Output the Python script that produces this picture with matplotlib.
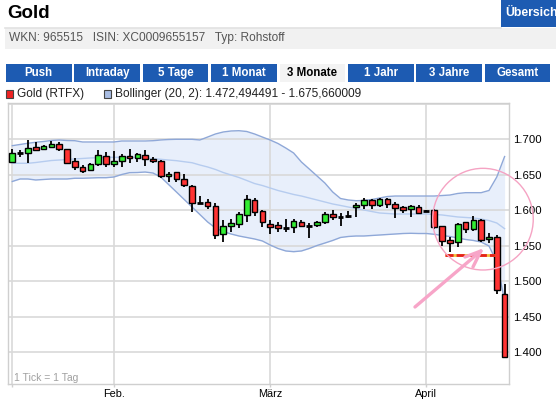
import matplotlib
matplotlib.use("Agg")
import matplotlib.pyplot as plt
from matplotlib.patches import Rectangle, Ellipse
from matplotlib.lines import Line2D
import numpy as np

plt.rcParams['lines.scale_dashes'] = False

# ---------------- data ----------------
opens = [1.6685, 1.6800, 1.6811, 1.6887, 1.6859, 1.6896, 1.6934, 1.6863, 1.6690, 1.6606,
         1.6563, 1.6652, 1.6765, 1.6648, 1.6690, 1.6760, 1.6732, 1.6775, 1.6718, 1.6690,
         1.6487, 1.6535, 1.6437, 1.6338, 1.6107, 1.6113, 1.6056, 1.5662, 1.5775, 1.5803,
         1.5930, 1.6145, 1.5994, 1.5803, 1.5789, 1.5751, 1.5760, 1.5839, 1.5783, 1.5789,
         1.5831, 1.5944, 1.5906, 1.5924, 1.6042, 1.6075, 1.6145, 1.6075, 1.6164, 1.6093,
         1.6042, 1.6014, 1.6051, 1.5994, 1.6004, 1.5775, 1.5580, 1.5550, 1.5831, 1.5732,
         1.5863, 1.5591, 1.5620, 1.4821]
highs = [1.6859, 1.6845, 1.6990, 1.6958, 1.6924, 1.6976, 1.6958, 1.6870, 1.6732, 1.6642,
         1.6662, 1.6849, 1.6817, 1.6831, 1.6793, 1.6863, 1.6803, 1.6849, 1.6746, 1.6708,
         1.6544, 1.6544, 1.6511, 1.6356, 1.6201, 1.6155, 1.6099, 1.5863, 1.5877, 1.5980,
         1.6215, 1.6169, 1.6008, 1.5863, 1.5831, 1.5877, 1.5877, 1.5863, 1.5817, 1.5849,
         1.5980, 1.6000, 1.5962, 1.5990, 1.6107, 1.6169, 1.6160, 1.6178, 1.6178, 1.6113,
         1.6065, 1.6075, 1.6079, 1.6004, 1.6018, 1.5783, 1.5620, 1.5821, 1.5839, 1.5924,
         1.5877, 1.5685, 1.5652, 1.4962]
lows = [1.6670, 1.6745, 1.6670, 1.6845, 1.6859, 1.6873, 1.6840, 1.6656, 1.6568, 1.6521,
        1.6550, 1.6628, 1.6606, 1.6606, 1.6614, 1.6662, 1.6685, 1.6628, 1.6662, 1.6451,
        1.6394, 1.6403, 1.6332, 1.5980, 1.6084, 1.6014, 1.5596, 1.5558, 1.5699, 1.5755,
        1.5839, 1.5924, 1.5760, 1.5662, 1.5694, 1.5699, 1.5676, 1.5760, 1.5614, 1.5760,
        1.5807, 1.5859, 1.5775, 1.5887, 1.5910, 1.6014, 1.6014, 1.6047, 1.6037, 1.5896,
        1.5958, 1.5910, 1.5944, 1.5990, 1.5732, 1.5501, 1.5408, 1.5487, 1.5676, 1.5708,
        1.5558, 1.5535, 1.4817, 1.3915]
closes = [1.6803, 1.6800, 1.6873, 1.6845, 1.6906, 1.6934, 1.6859, 1.6670, 1.6606, 1.6550,
          1.6648, 1.6779, 1.6648, 1.6690, 1.6760, 1.6732, 1.6793, 1.6718, 1.6690, 1.6487,
          1.6515, 1.6437, 1.6356, 1.6099, 1.6107, 1.6056, 1.5648, 1.5775, 1.5817, 1.5944,
          1.6155, 1.5980, 1.5831, 1.5761, 1.5746, 1.5751, 1.5849, 1.5783, 1.5783, 1.5831,
          1.5944, 1.5901, 1.5906, 1.5924, 1.6075, 1.6145, 1.6075, 1.6155, 1.6085, 1.6037,
          1.6008, 1.6056, 1.5966, 1.5994, 1.5760, 1.5572, 1.5535, 1.5803, 1.5732, 1.5863,
          1.5586, 1.5624, 1.4882, 1.3929]

boll_upper = [1.6910, 1.6927, 1.6944, 1.6958, 1.6969, 1.6983, 1.6990, 1.6983, 1.6980, 1.6962,
              1.6962, 1.6962, 1.6962, 1.6962, 1.6976, 1.6976, 1.6976, 1.6976, 1.6980, 1.6990,
              1.6997, 1.7000, 1.7000, 1.7000, 1.6990, 1.7032, 1.7075, 1.7103, 1.7117, 1.7121,
              1.7110, 1.7075, 1.7032, 1.6990, 1.6941, 1.6877, 1.6807, 1.6680, 1.6582, 1.6483,
              1.6384, 1.6258, 1.6166, 1.6145, 1.6135, 1.6138, 1.6152, 1.6173, 1.6194, 1.6201,
              1.6201, 1.6201, 1.6201, 1.6201, 1.6201, 1.6208, 1.6215, 1.6237, 1.6248, 1.6248,
              1.6248, 1.6279, 1.6469, 1.6757]
boll_mid = [1.6662, 1.6662, 1.6662, 1.6673, 1.6687, 1.6701, 1.6708, 1.6715, 1.6723, 1.6730,
            1.6737, 1.6741, 1.6746, 1.6746, 1.6746, 1.6746, 1.6744, 1.6737, 1.6727, 1.6718,
            1.6708, 1.6699, 1.6684, 1.6670, 1.6638, 1.6610, 1.6575, 1.6532, 1.6497, 1.6462,
            1.6420, 1.6377, 1.6349, 1.6314, 1.6279, 1.6251, 1.6223, 1.6201, 1.6173, 1.6145,
            1.6117, 1.6089, 1.6068, 1.6046, 1.6025, 1.6004, 1.5983, 1.5962, 1.5955, 1.5948,
            1.5948, 1.5948, 1.5948, 1.5948, 1.5941, 1.5934, 1.5920, 1.5906, 1.5899, 1.5892,
            1.5877, 1.5856, 1.5821, 1.5741]
boll_lower = [1.6406, 1.6441, 1.6441, 1.6427, 1.6434, 1.6441, 1.6441, 1.6441, 1.6451, 1.6451,
              1.6455, 1.6459, 1.6459, 1.6469, 1.6504, 1.6530, 1.6532, 1.6539, 1.6525, 1.6469,
              1.6363, 1.6258, 1.6152, 1.6046, 1.5941, 1.5835, 1.5751, 1.5701, 1.5666, 1.5638,
              1.5617, 1.5596, 1.5568, 1.5511, 1.5462, 1.5427, 1.5417, 1.5427, 1.5462, 1.5504,
              1.5539, 1.5575, 1.5617, 1.5631, 1.5638, 1.5638, 1.5645, 1.5652, 1.5659, 1.5666,
              1.5673, 1.5676, 1.5673, 1.5673, 1.5662, 1.5645, 1.5631, 1.5610, 1.5589, 1.5575,
              1.5553, 1.5497, 1.5272, 1.4725]

y_ticks = [1.40, 1.45, 1.50, 1.55, 1.60, 1.65, 1.70, 1.75]
y_tick_labels = ["1.400", "1.450", "1.500", "1.550", "1.600", "1.650", "1.700", ""]
month_pos = [13, 33, 53]
month_labels = ["Feb.", "März", "April"]
tabs = ["Push", "Intraday", "5 Tage", "1 Monat", "3 Monate", "1 Jahr", "3 Jahre", "Gesamt"]
selected_tab = "3 Monate"
title = "Gold"
button_text = "Übersich"
info = "WKN: 965515   ISIN: XC0009655157   Typ: Rohstoff"
legend_gold = "Gold (RTFX)"
legend_boll = "Bollinger (20, 2): 1.472,494491 - 1.675,660009"
support_level = 1.537

# ---------------- figure ----------------
W, H = 556, 403
fig = plt.figure(figsize=(W / 100, H / 100), dpi=100)
fig.patch.set_facecolor("white")
FONT = "Liberation Sans"
BLUE = "#1d5bb2"


def fx(px):
    return px / W


def fy(py):
    return 1 - py / H


def rect(x0, y0, x1, y1, **kw):
    fig.patches.append(Rectangle((fx(x0), fy(y1)), (x1 - x0) / W, (y1 - y0) / H,
                                 transform=fig.transFigure, figure=fig, **kw))


# header
fig.text(fx(7), fy(14), title, fontsize=13.5, fontweight="bold", family=FONT,
         va="center", ha="left")
rect(501, 0, 556, 27, color=BLUE, lw=0)
fig.text(fx(505), fy(13.5), button_text, fontsize=8.8, fontweight="bold", color="white",
         family=FONT, va="center", ha="left")
fig.add_artist(Line2D([fx(5), fx(501)], [fy(27.5)] * 2, color="#e2e2e2", lw=1.2))
rect(5, 28.5, 556, 48.5, color="#f1f1f1", lw=0)
fig.text(fx(9), fy(37.5), info, fontsize=8.6, color="#555555", family=FONT,
         va="center", ha="left")

# tabs
for k, name in enumerate(tabs):
    x0 = 6 + k * 68.4
    sel = name == selected_tab
    rect(x0, 64.3, x0 + 65.5, 81.7, color="#f3f3f3" if sel else BLUE, lw=0)
    fig.text(fx(x0 + 32.75), fy(73.3), name, fontsize=8.3, fontweight="bold",
             color="black" if sel else "white", family=FONT, ha="center", va="center")

# legend
rect(6, 90.5, 13, 97.5, facecolor="#ee2222", edgecolor="#444444", lw=0.8)
fig.text(fx(17), fy(94), legend_gold, fontsize=8.6, color="#222222", family=FONT,
         va="center", ha="left")
rect(104, 90.5, 111, 97.5, facecolor="#a9bde3", edgecolor="#444444", lw=0.8)
fig.text(fx(115), fy(94), legend_boll, fontsize=8.6, color="#222222", family=FONT,
         va="center", ha="left")

# ---------------- chart ----------------
ax = fig.add_axes([fx(8.3), fy(384.3), (509.3 - 8.3) / W, (384.3 - 103.3) / H])
n = len(opens)
idx = np.arange(n)
ax.set_xlim(-0.51, 63.6)
ax.set_ylim(1.3549, 1.7507)

GRID = "#d9d9d9"
for v in y_ticks:
    ax.axhline(v, color=GRID, lw=1.2, zorder=1.5)
for p in [0] + month_pos:
    ax.axvline(p, color=GRID, lw=1.2, zorder=1.5)

ax.fill_between(idx, boll_lower, boll_upper, color="#e8effb", lw=0, zorder=1)
ax.plot(idx, boll_upper, color="#8fa8d8", lw=1, zorder=2)
ax.plot(idx, boll_lower, color="#8fa8d8", lw=1, zorder=2)
ax.plot(idx, boll_mid, color="#b6ccef", lw=1, zorder=2)

for i in range(n):
    o, h, l, c = opens[i], highs[i], lows[i], closes[i]
    ax.vlines(i, l, h, color="black", lw=1.3, zorder=3)
    if abs(c - o) < 0.0004:
        ax.hlines(o, i - 0.38, i + 0.38, color="black", lw=2, zorder=4)
    else:
        col = "#33ee33" if c > o else "#ff3333"
        ax.bar(i, abs(c - o), bottom=min(o, c), width=0.72, color=col,
               edgecolor="black", lw=1, zorder=4)

# annotations (hand drawn marks in the reference)
ax.plot([55.37, 61.77], [support_level] * 2, color="#f2c23a", lw=2, zorder=5,
        solid_capstyle="butt")
ax.plot([55.37, 61.77], [support_level] * 2, color="#e5201c", lw=2, zorder=5,
        dashes=(5.8, 2.2), dash_capstyle="butt")
ax.add_patch(Ellipse((60.23, 1.5875), width=12.87, height=0.1432, fill=False,
                     ec="#f5a3c3", lw=1, clip_on=False, zorder=6))
PINK = "#f7a5c8"
ax.plot([51.53, 59.97], [1.4638, 1.5427], color=PINK, lw=2.4, zorder=6,
        solid_capstyle="round")
ax.plot([57.93, 59.97, 58.95], [1.5342, 1.5427, 1.5201], color=PINK, lw=2.4, zorder=6,
        solid_capstyle="round", solid_joinstyle="round")

ax.text((14 - 8.3) / 501, (384.3 - 378) / 281, "1 Tick = 1 Tag", transform=ax.transAxes,
        fontsize=7.5, color="#a0a0a0", family=FONT, va="center", ha="left")

# axes styling
for s in ax.spines.values():
    s.set_color("#cfcfcf")
    s.set_linewidth(1)
ax.yaxis.tick_right()
ax.set_yticks(y_ticks)
ax.set_yticklabels(y_tick_labels, family=FONT, fontsize=8.2)
ax.tick_params(axis="y", length=0, pad=3)
ax.set_xticks([0] + month_pos)
ax.set_xticklabels([""] + month_labels, family=FONT, fontsize=7.8)
ax.tick_params(axis="x", length=2, width=1, color="#cfcfcf", pad=1.5)

fig.savefig("out.png", dpi=100, facecolor="white")
